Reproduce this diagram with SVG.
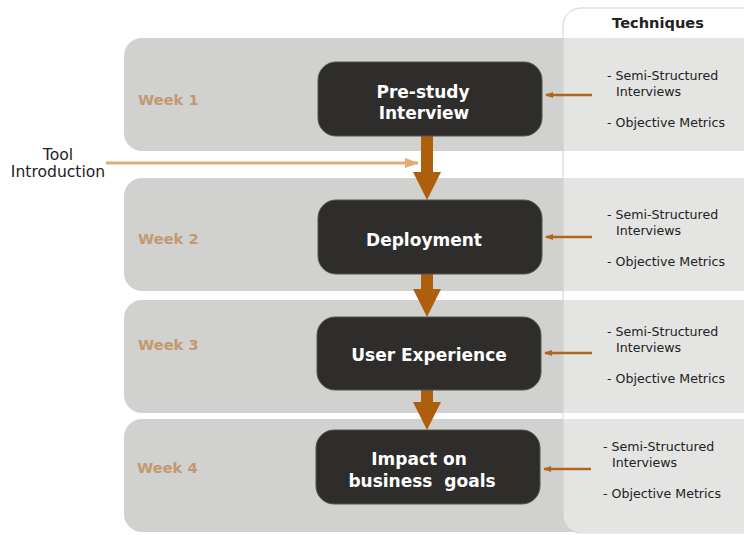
<svg xmlns="http://www.w3.org/2000/svg" width="744" height="535" viewBox="0 0 744 535">
<style>
.band{fill:#d1d1cf}
.node rect{fill:#2e2d2b;stroke:#555;stroke-width:1}
.nt{font-family:"DejaVu Sans",Verdana,sans-serif;font-weight:bold;font-size:17px;fill:#ffffff;text-anchor:middle}
.wk{font-family:"DejaVu Sans",Verdana,sans-serif;font-weight:bold;font-size:14.7px;fill:#c4986f}
.tq{font-family:"DejaVu Sans",Verdana,sans-serif;font-size:12.6px;fill:#222}
.big{fill:#ad5f0c}
.small{stroke:#b0661c;stroke-width:2.5;fill:none}
</style>
<defs>
<marker id="sh" markerWidth="8" markerHeight="8" refX="7" refY="4" orient="auto" markerUnits="userSpaceOnUse">
<path d="M0,1 L8,4 L0,7 Z" fill="#b0661c"/>
</marker>
<marker id="ta" markerWidth="14" markerHeight="12" refX="13" refY="6" orient="auto" markerUnits="userSpaceOnUse">
<path d="M0,1 L14,6 L0,11 Z" fill="#e2aa72"/>
</marker>
</defs>
<rect width="744" height="535" fill="#ffffff"/>
<g id="bands">
<rect class="band" x="124" y="38" width="640" height="113" rx="18"/>
<rect class="band" x="124" y="178" width="640" height="113" rx="18"/>
<rect class="band" x="124" y="300" width="640" height="113" rx="18"/>
<rect class="band" x="124" y="419" width="640" height="113" rx="18"/>
</g>
<g id="techniques-col">
<rect x="563" y="8" width="220" height="525" rx="18" fill="#ffffff" fill-opacity="0.42" stroke="#cfcfcf" stroke-width="1"/>
<text x="658" y="28" text-anchor="middle" font-family="DejaVu Sans,Verdana,sans-serif" font-weight="bold" font-size="14.6" fill="#222">Techniques</text>
</g>
<g id="week-labels">
<text class="wk" x="138" y="105">Week 1</text>
<text class="wk" x="138" y="244">Week 2</text>
<text class="wk" x="138" y="350">Week 3</text>
<text class="wk" x="137" y="473">Week 4</text>
</g>
<g id="tool-intro">
<text x="58" y="160" text-anchor="middle" font-family="DejaVu Sans,Verdana,sans-serif" font-size="15.6" fill="#222">Tool</text>
<text x="58" y="177" text-anchor="middle" font-family="DejaVu Sans,Verdana,sans-serif" font-size="15.6" fill="#222">Introduction</text>
</g>
<g id="connectors">
<line x1="106" y1="163" x2="418" y2="163" stroke="#e2aa72" stroke-width="3" marker-end="url(#ta)"/>
<path class="big" d="M421,136 H433 V172 H441 L427,200 L413,172 H421 Z"/>
<path class="big" d="M421,274 H433 V289 H441 L427,317 L413,289 H421 Z"/>
<path class="big" d="M421,390 H433 V402 H441 L427,430 L413,402 H421 Z"/>
<line class="small" x1="592" y1="95" x2="546" y2="95" marker-end="url(#sh)"/>
<line class="small" x1="592" y1="237" x2="546" y2="237" marker-end="url(#sh)"/>
<line class="small" x1="592" y1="353" x2="545" y2="353" marker-end="url(#sh)"/>
<line class="small" x1="591" y1="469" x2="544" y2="469" marker-end="url(#sh)"/>
</g>
<g id="node-prestudy" class="node">
<rect x="318" y="62" width="224" height="74" rx="18"/>
<text class="nt" x="423" y="98">Pre-study</text>
<text class="nt" x="424" y="119">Interview</text>
</g>
<g id="node-deployment" class="node">
<rect x="318" y="200" width="224" height="74" rx="18"/>
<text class="nt" x="424" y="246">Deployment</text>
</g>
<g id="node-ux" class="node">
<rect x="317" y="317" width="224" height="73" rx="18"/>
<text class="nt" x="429" y="361">User Experience</text>
</g>
<g id="node-impact" class="node">
<rect x="316" y="430" width="224" height="74" rx="18"/>
<text class="nt" x="419" y="465">Impact on</text>
<text class="nt" x="422" y="487" xml:space="preserve">business  goals</text>
</g>
<g id="tech-1">
<text class="tq" x="607" y="80">- Semi-Structured</text>
<text class="tq" x="616" y="96">Interviews</text>
<text class="tq" x="607" y="127">- Objective Metrics</text>
</g>
<g id="tech-2">
<text class="tq" x="607" y="219">- Semi-Structured</text>
<text class="tq" x="616" y="235">Interviews</text>
<text class="tq" x="607" y="266">- Objective Metrics</text>
</g>
<g id="tech-3">
<text class="tq" x="607" y="336">- Semi-Structured</text>
<text class="tq" x="616" y="352">Interviews</text>
<text class="tq" x="607" y="383">- Objective Metrics</text>
</g>
<g id="tech-4">
<text class="tq" x="603" y="451">- Semi-Structured</text>
<text class="tq" x="612" y="467">Interviews</text>
<text class="tq" x="603" y="498">- Objective Metrics</text>
</g>
</svg>
